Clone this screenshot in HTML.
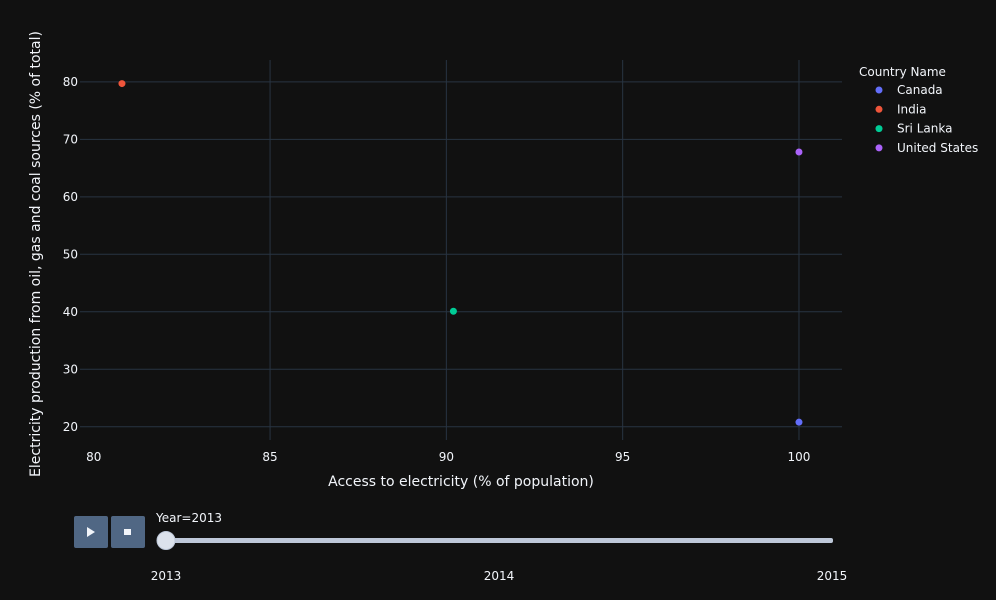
<!DOCTYPE html>
<html><head><meta charset="utf-8"><style>
html,body{margin:0;padding:0;background:#111111;}
svg{display:block;font-family:"DejaVu Sans","Liberation Sans",sans-serif;}
</style></head><body>
<svg id="chart" width="996" height="600">
<rect width="996" height="600" fill="#111111"/>
<g id="grid"></g>
<g id="marks"></g>
<text x="461" y="486" fill="#f2f5fa" font-size="14" text-anchor="middle">Access to electricity (% of population)</text>
<text transform="translate(40,254) rotate(-90)" fill="#f2f5fa" font-size="14" text-anchor="middle">Electricity production from oil, gas and coal sources (% of total)</text>
<g>
<text x="859" y="76" fill="#f2f5fa" font-size="12">Country Name</text>
<g id="legend"></g>
</g>
<g><rect x="74" y="516" width="34" height="32" rx="2" fill="#506784"/><path d="M87,527 L95,532 L87,537Z" fill="#f2f5fa"/></g>
<g><rect x="111" y="516" width="34" height="32" rx="2" fill="#506784"/><rect x="124" y="529" width="7" height="6" fill="#f2f5fa"/></g>
<text x="156" y="522" fill="#f2f5fa" font-size="12">Year=2013</text>
<rect x="162" y="538" width="671" height="5" rx="2" fill="#bec8d9"/>
<circle cx="166" cy="540.5" r="9" fill="#dce2ec" stroke="#bec8d9"/>
<g id="sliderlabels"></g>
</svg>
<script>
const countries=["Canada","India","Sri Lanka","United States"];
const accessVals=[100,80.8,90.2,100];
const fossilVals=[20.8,79.7,40.1,67.8];
const colors=["#636efa","#EF553B","#00cc96","#ab63fa"];
const xTicks=[80,85,90,95,100];
const yTicks=[20,30,40,50,60,70,80];
const years=["2013","2014","2015"];
const L=80,R=842,T=60,B=440;
const xMin=79.61,xMax=101.22,yMin=17.7,yMax=83.8;
const xs=v=>L+(v-xMin)/(xMax-xMin)*(R-L);
const ys=v=>B-(v-yMin)/(yMax-yMin)*(B-T);
const NS="http://www.w3.org/2000/svg";
function mk(tag,attrs,parent,text){const e=document.createElementNS(NS,tag);for(const k in attrs)e.setAttribute(k,attrs[k]);if(text!==undefined)e.textContent=text;parent.appendChild(e);return e;}
const grid=document.getElementById('grid');
xTicks.forEach((t,i)=>{const x=xs(t);
if(i>0){
const l=mk('line',{x1:x,x2:x,y1:T,y2:B,stroke:'#283442','stroke-width':1},grid);

}
const tx=mk('text',{x:x,y:B+21,fill:'#f2f5fa','font-size':12,'text-anchor':'middle'},grid,String(t));

});
yTicks.forEach(t=>{const y=ys(t);
const l=mk('line',{x1:L,x2:R,y1:y,y2:y,stroke:'#283442','stroke-width':1},grid);


const tx=mk('text',{x:L-2,y:y+4,fill:'#f2f5fa','font-size':12,'text-anchor':'end'},grid,String(t));

});
const marks=document.getElementById('marks');
countries.forEach((c,i)=>{
const p=mk('circle',{cx:xs(accessVals[i]),cy:ys(fossilVals[i]),r:3.5,fill:colors[i]},marks);

});
const lg=document.getElementById('legend');
countries.forEach((c,i)=>{const y=90+i*19.3;
const g=mk('g',{},lg);


mk('circle',{cx:879,cy:y,r:3.5,fill:colors[i]},g);
mk('text',{x:897,y:y+4,fill:'#f2f5fa','font-size':12},g,c);});
const sl=document.getElementById('sliderlabels');
years.forEach((yr,i)=>{const x=166+i*(832-166)/(years.length-1);
const t=mk('text',{x:x,y:580,fill:'#f2f5fa','font-size':12,'text-anchor':'middle'},sl,yr);

});
</script>
</body></html>
